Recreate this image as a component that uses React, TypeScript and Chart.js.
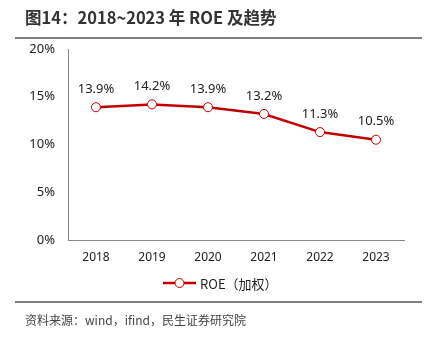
import React, { useEffect, useRef } from "react";
import { Chart, registerables } from "chart.js";

Chart.register(...registerables);

const title = "图14：2018~2023 年 ROE 及趋势";
const source = "资料来源：wind，ifind，民生证券研究院";
const categories = ["2018", "2019", "2020", "2021", "2022", "2023"];
const roeValues = [13.9, 14.2, 13.9, 13.2, 11.3, 10.5];
const seriesName = "ROE（加权）";
const yTicks = [0, 5, 10, 15, 20];

const RED = "#C00000";
const FONT = "'Noto Sans', 'Noto Sans CJK SC', sans-serif";
const CJK = "'Noto Sans CJK SC', sans-serif";

const decor = {
  id: "decor",
  afterDraw(chart: any) {
    const ctx = chart.ctx;
    ctx.save();
    // title
    ctx.fillStyle = "#333";
    ctx.font = `bold 16.5px ${CJK}`;
    ctx.textBaseline = "middle";
    ctx.textAlign = "left";
    ctx.fillText(title, 25, 18);
    ctx.strokeStyle = "#555";
    ctx.lineWidth = 1.5;
    ctx.beginPath();
    ctx.moveTo(15, 38);
    ctx.lineTo(422, 38);
    ctx.stroke();
    // footer
    ctx.beginPath();
    ctx.moveTo(15, 302);
    ctx.lineTo(422, 302);
    ctx.stroke();
    ctx.font = `12px ${CJK}`;
    ctx.fillStyle = "#444";
    ctx.fillText(source, 25, 320);
    // data labels
    const meta = chart.getDatasetMeta(0);
    ctx.font = `13px ${FONT}`;
    ctx.fillStyle = "#222";
    ctx.textAlign = "center";
    meta.data.forEach((pt: any, i: number) => {
      ctx.fillText(roeValues[i].toFixed(1) + "%", pt.x, pt.y - 18);
    });
    // legend
    const lx = 163, ly = 283;
    ctx.strokeStyle = RED;
    ctx.lineWidth = 2.5;
    ctx.beginPath();
    ctx.moveTo(lx, ly);
    ctx.lineTo(lx + 33, ly);
    ctx.stroke();
    ctx.fillStyle = "#fff";
    ctx.lineWidth = 1;
    ctx.beginPath();
    ctx.arc(lx + 16.5, ly, 4.5, 0, Math.PI * 2);
    ctx.fill();
    ctx.stroke();
    ctx.fillStyle = "#222";
    ctx.textAlign = "left";
    ctx.font = `13px ${CJK}`;
    ctx.fillText(seriesName, lx + 37, ly + 1);
    ctx.restore();
  },
};

export default function App() {
  const ref = useRef<HTMLCanvasElement>(null);
  useEffect(() => {
    if (!ref.current) return;
    const chart = new Chart(ref.current, {
      type: "line",
      data: {
        labels: categories,
        datasets: [
          {
            label: seriesName,
            data: roeValues,
            borderColor: RED,
            borderWidth: 2.5,
            backgroundColor: "#fff",
            pointBackgroundColor: "#fff",
            pointBorderColor: RED,
            pointBorderWidth: 1,
            pointRadius: 4.5,
            tension: 0,
          },
        ],
      },
      options: {
        animation: false,
        responsive: false,
        layout: { padding: { top: 49, left: 0, right: 27, bottom: 0 } },
        plugins: { legend: { display: false }, tooltip: { enabled: false } },
        scales: {
          x: {
            offset: true,
            grid: { display: false, drawTicks: false },
            border: { color: "#888", width: 1 },
            ticks: { color: "#222", font: { size: 12, family: FONT }, padding: 10 },
            afterFit: (s: any) => { s.height = 101; },
          },
          y: {
            min: 0,
            max: 20,
            grid: { display: false, drawTicks: false },
            border: { color: "#888", width: 1 },
            afterBuildTicks: (s: any) => { s.ticks = yTicks.map((v) => ({ value: v })); },
            ticks: {
              color: "#222",
              font: { size: 13, family: FONT },
              padding: 13,
              callback: (v: any) => v + "%",
            },
            afterFit: (s: any) => { s.width = 68; },
          },
        },
      },
      plugins: [decor],
    });
    return () => chart.destroy();
  }, []);
  return (
    <div style={{ position: "fixed", left: 0, top: 0, width: 431, height: 341, background: "#fff" }}>
      <canvas ref={ref} width={431} height={341} style={{ width: 431, height: 341 }} />
    </div>
  );
}
